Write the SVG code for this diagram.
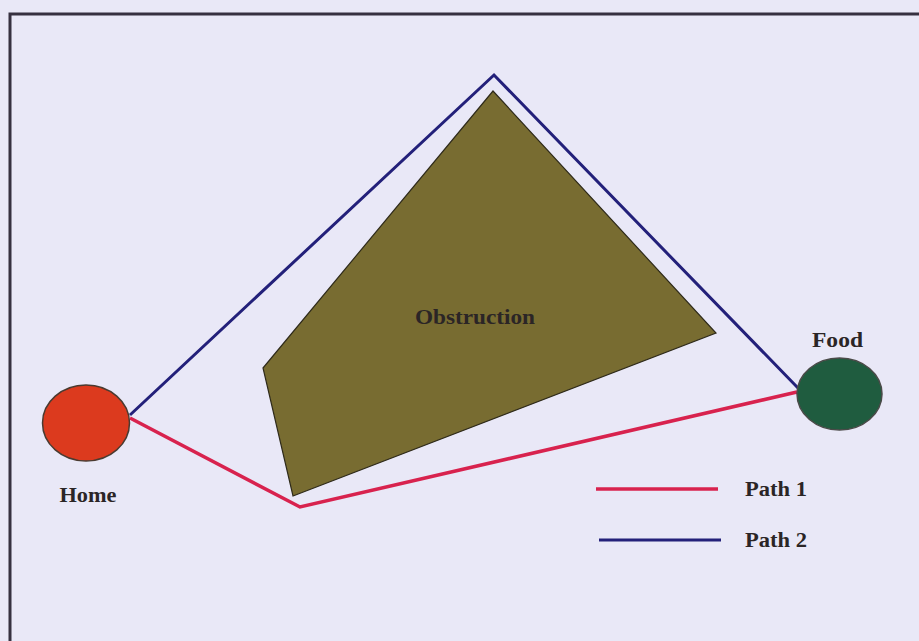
<svg xmlns="http://www.w3.org/2000/svg" width="919" height="641" viewBox="0 0 919 641">
<style>
.lbl{font-family:"Liberation Serif","Times New Roman",serif;font-weight:bold;fill:#2b2526}
.p1{stroke:#d8224e;stroke-width:3.5;fill:none;stroke-linejoin:miter}
.p2{stroke:#23207a;stroke-width:3;fill:none;stroke-linejoin:miter}
</style>
<rect x="0" y="0" width="919" height="641" fill="#e9e8f7"/>
<rect id="frame" x="10" y="14" width="940" height="660" fill="none" stroke="#363040" stroke-width="3"/>
<g id="obstruction">
<polygon points="493,91 716,333 293,496 263,368" fill="#786c31" stroke="#2e2a1a" stroke-width="1.2"/>
<text class="lbl" x="475" y="324" font-size="20" text-anchor="middle" textLength="120" lengthAdjust="spacingAndGlyphs">Obstruction</text>
</g>
<g id="connectors">
<polyline id="path2" class="p2" points="130,415 494,75 798,388"/>
<polyline id="path1" class="p1" points="130,418 300,507 797,392"/>
</g>
<g id="home">
<ellipse cx="86" cy="423" rx="43.5" ry="38" fill="#dc3a1e" stroke="#4a3a30" stroke-width="1.5"/>
<text class="lbl" x="88" y="502" font-size="20" text-anchor="middle" textLength="57" lengthAdjust="spacingAndGlyphs">Home</text>
</g>
<g id="food">
<ellipse cx="839.5" cy="394" rx="42.5" ry="36" fill="#1f5c3f" stroke="#4a4a48" stroke-width="1.5"/>
<text class="lbl" x="837.5" y="347" font-size="20" text-anchor="middle" textLength="51" lengthAdjust="spacingAndGlyphs">Food</text>
</g>
<g id="legend">
<line class="p1" x1="596" y1="489" x2="718" y2="489"/>
<text class="lbl" x="745" y="496" font-size="20" textLength="62" lengthAdjust="spacingAndGlyphs">Path 1</text>
<line class="p2" x1="599" y1="540" x2="721" y2="540"/>
<text class="lbl" x="745" y="547" font-size="20" textLength="62" lengthAdjust="spacingAndGlyphs">Path 2</text>
</g>
</svg>
